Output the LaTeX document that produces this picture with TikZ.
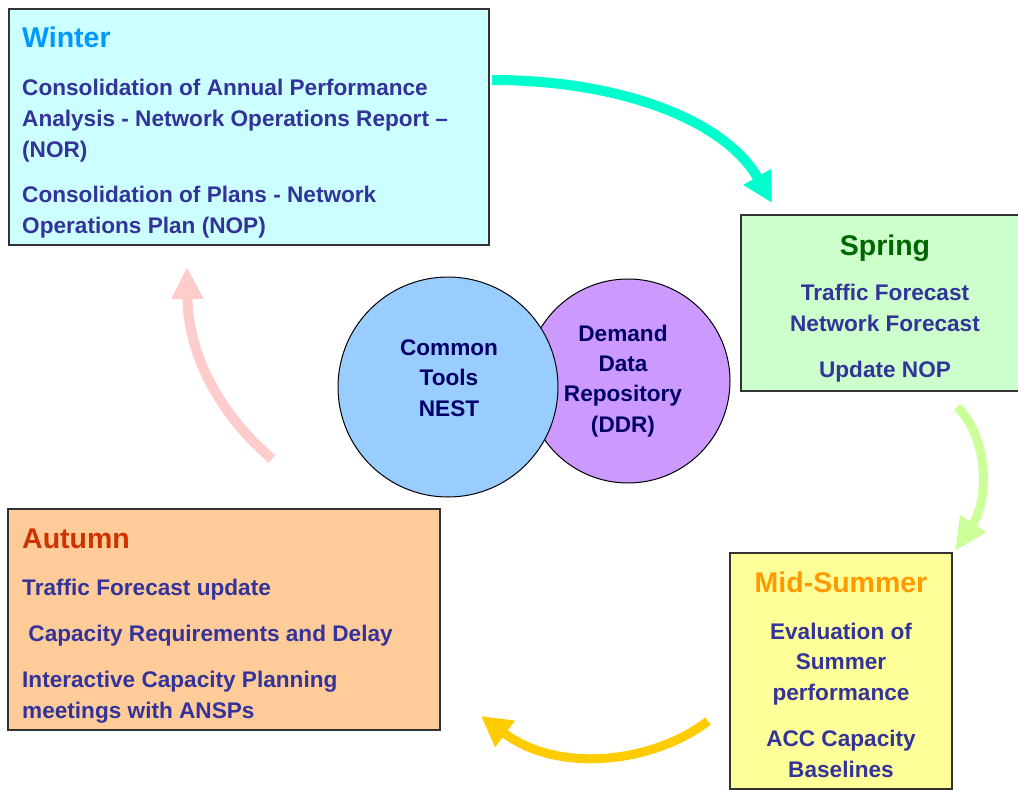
\documentclass[tikz,border=0pt]{standalone}
\usepackage{fontspec}
\setmainfont{Liberation Sans}
\usetikzlibrary{arrows.meta}
\definecolor{winterfill}{HTML}{CCFFFF}
\definecolor{springfill}{HTML}{CCFFCC}
\definecolor{summerfill}{HTML}{FFFF99}
\definecolor{autumnfill}{HTML}{FFCC99}
\definecolor{wintertitle}{HTML}{0099FF}
\definecolor{springtitle}{HTML}{006600}
\definecolor{summertitle}{HTML}{FF9900}
\definecolor{autumntitle}{HTML}{CC3300}
\definecolor{bodytext}{HTML}{333399}
\definecolor{circtext}{HTML}{000066}
\definecolor{bluecirc}{HTML}{99CCFF}
\definecolor{purplecirc}{HTML}{CC99FF}
\definecolor{cyanarrow}{HTML}{00FFCC}
\definecolor{greenarrow}{HTML}{CCFF99}
\definecolor{yellowarrow}{HTML}{FFCC00}
\definecolor{pinkarrow}{HTML}{FFCCCC}
\begin{document}
\begin{tikzpicture}[x=1pt,y=-1pt,
  seasonbox/.style={draw=black!80,line width=1.2pt},
  titletext/.style={inner sep=0pt,font=\bfseries\fontsize{28.5}{34}\selectfont},
  bodyleft/.style={inner sep=0pt,anchor=base west,align=left,text=bodytext,font=\bfseries\fontsize{22.6}{31}\selectfont},
  bodycenter/.style={inner sep=0pt,anchor=base,align=center,text=bodytext,font=\bfseries\fontsize{22.6}{30.5}\selectfont},
  circ/.style={circle,draw=black,line width=1pt,inner sep=0pt},
  circlabel/.style={inner sep=0pt,anchor=base,align=center,text=circtext,font=\bfseries\fontsize{22.6}{30.2}\selectfont},
  cycarrow/.style={line cap=butt}
]
\useasboundingbox (0,0) rectangle (1018,790);
\fill[white] (0,0) rectangle (1018,790);

% boxes (anchor of multi-line text = baseline of its last line)
\draw[seasonbox,fill=winterfill] (9,9) rectangle (489,245);
\draw[seasonbox,fill=springfill] (741,215) rectangle (1030,391);
\draw[seasonbox,fill=summerfill] (730,553) rectangle (952,789);
\draw[seasonbox,fill=autumnfill] (8,509) rectangle (440,730);

% Winter
\node[titletext,anchor=base west,text=wintertitle] (wintert) at (22,47) {Winter};
\node[bodyleft] (winter1) at (22,157) {Consolidation of Annual Performance\\Analysis - Network Operations Report –\\(NOR)};
\node[bodyleft] (winter2) at (22,233) {Consolidation of Plans - Network\\Operations Plan (NOP)};

% Spring
\node[titletext,anchor=base,text=springtitle] (springt) at (885,255) {Spring};
\node[bodycenter] (spring1) at (885,331) {Traffic Forecast\\Network Forecast};
\node[bodycenter] (spring2) at (885,377) {Update NOP};

% Mid-Summer
\node[titletext,anchor=base,text=summertitle] (summert) at (841,592) {Mid-Summer};
\node[bodycenter] (summer1) at (841,700) {Evaluation of\\Summer\\performance};
\node[bodycenter] (summer2) at (841,777) {ACC Capacity\\Baselines};

% Autumn
\node[titletext,anchor=base west,text=autumntitle] (autumnt) at (22,548) {Autumn};
\node[bodyleft] (autumn1) at (22,595) {Traffic Forecast update};
\node[bodyleft] (autumn2) at (22,641) {\ Capacity Requirements and Delay};
\node[bodyleft] (autumn3) at (22,718) {Interactive Capacity Planning\\meetings with ANSPs};

% circles
\node[circ,fill=purplecirc,minimum size=204pt] (ddr) at (628,381) {};
\node[circ,fill=bluecirc,minimum size=220pt] (nest) at (448,387) {};
\node[circlabel] (nesttext) at (449,416) {Common\\Tools\\NEST};
\node[circlabel] (ddrtext) at (623,432) {Demand\\Data\\Repository\\(DDR)};

% arrow end points
\coordinate (wS) at (492,80);
\coordinate (sN) at (772,203);
\coordinate (sS) at (957,407);
\coordinate (mN) at (955,551);
\coordinate (mW) at (708,721);
\coordinate (aE) at (481,716);
\coordinate (aN) at (272,459);
\coordinate (wB) at (187,267);

\draw[cycarrow,cyanarrow,line width=10pt,-{Triangle[width=30pt,length=30pt]}]
  (wS) .. controls (620,80) and (725,120) .. (sN);
\draw[cycarrow,greenarrow,line width=9pt,-{Triangle[width=29pt,length=33pt]}]
  (sS) .. controls (985,432) and (992,495) .. (mN);
\draw[cycarrow,yellowarrow,line width=9pt,-{Triangle[width=31pt,length=30pt]}]
  (mW) .. controls (655,762) and (560,775) .. (aE);
\draw[cycarrow,pinkarrow,line width=10pt,-{Triangle[width=30pt,length=32pt]}]
  (aN) .. controls (215,410) and (188,350) .. (wB);
\end{tikzpicture}
\end{document}
